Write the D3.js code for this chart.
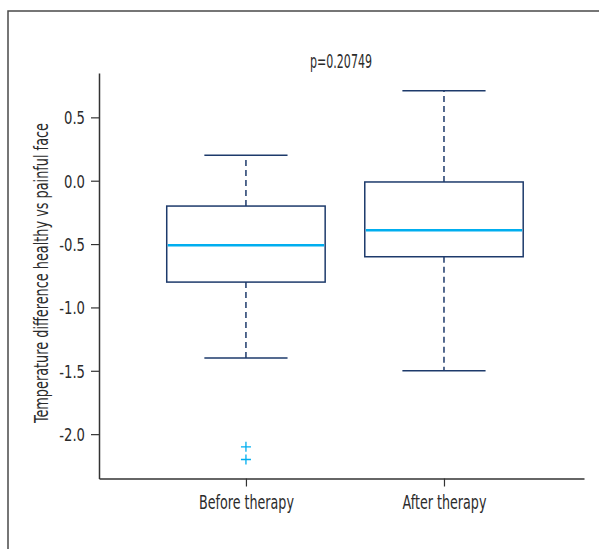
<!DOCTYPE html>
<html><head><meta charset="utf-8">
<script src="https://cdn.jsdelivr.net/npm/d3@7"></script>
<style>
body{margin:0;background:#fff;}
text{font-family:"DejaVu Sans Condensed","DejaVu Sans",sans-serif;fill:#2b2b2b;}
</style></head>
<body><svg id="c" width="599" height="549"></svg>
<script>
const categories = ["Before therapy", "After therapy"];
const positions = [1, 2];
const whiskerLow = [-1.40, -1.50];
const q1 = [-0.80, -0.60];
const median = [-0.51, -0.39];
const q3 = [-0.20, -0.01];
const whiskerHigh = [0.20, 0.71];
const outliers = [[-2.10, -2.20], []];
const yTicks = [0.5, 0.0, -0.5, -1.0, -1.5, -2.0];
const title = "p=0.20749";
const yLabel = "Temperature difference healthy vs painful face";

const svg = d3.select("#c");
const navy = "#1d3a6b", cyan = "#00aeef";
const FONT = '"DejaVu Sans Condensed","DejaVu Sans",sans-serif';

function squeeze(sel, factor){
  sel.each(function(){
    const w = this.getComputedTextLength();
    d3.select(this).attr("textLength", w*factor).attr("lengthAdjust","spacingAndGlyphs");
  });
}

// frame
svg.append("path").attr("d","M8,560 L8,11 L610,11").attr("fill","none").attr("stroke","#4a4a4a").attr("stroke-width",1.5);

const x = d3.scaleLinear().domain([0.258, 2.707]).range([99, 584]);
const y = d3.scaleLinear().domain([-2.35, 0.85]).range([478.5, 73]);

const fmt = v => d3.format(".1f")(v).replace("\u2212","-");

const yAxis = svg.append("g").attr("transform","translate(99,0)")
  .call(d3.axisLeft(y).tickValues(yTicks).tickFormat(fmt).tickSize(8).tickSizeOuter(0));
const xAxis = svg.append("g").attr("transform","translate(0,478.5)")
  .call(d3.axisBottom(x).tickValues(positions).tickFormat((d,i)=>categories[i]).tickSize(8).tickSizeOuter(0));
[yAxis,xAxis].forEach(a=>{
  a.select(".domain").attr("stroke","#333").attr("stroke-width",1.5);
  a.selectAll(".tick line").attr("stroke","#333").attr("stroke-width",1.2);
  a.selectAll(".tick text").style("font-family",FONT).attr("fill","#2b2b2b");
});
yAxis.selectAll(".tick text").attr("font-size",18).attr("x",-14).attr("dy","0.35em");
xAxis.selectAll(".tick text").attr("font-size",19).attr("y",30.5).attr("dy",0);

// condense to match the narrow reference face
const t05 = yAxis.selectAll(".tick text").filter(d=>d===0.5).node();
squeeze(yAxis.selectAll(".tick text"), 21/t05.getComputedTextLength());
const tb = xAxis.selectAll(".tick text").filter(d=>d===1).node();
squeeze(xAxis.selectAll(".tick text"), 95/tb.getComputedTextLength());

const bw = 0.8, cw = 0.42;
const g = svg.append("g");
positions.forEach((p,i)=>{
  g.append("line").attr("x1",x(p)).attr("x2",x(p)).attr("y1",y(q3[i])).attr("y2",y(whiskerHigh[i]))
    .attr("stroke",navy).attr("stroke-width",1.5).attr("stroke-dasharray","6,4");
  g.append("line").attr("x1",x(p)).attr("x2",x(p)).attr("y1",y(q1[i])).attr("y2",y(whiskerLow[i]))
    .attr("stroke",navy).attr("stroke-width",1.5).attr("stroke-dasharray","6,4");
  [whiskerHigh[i], whiskerLow[i]].forEach(v=>{
    g.append("line").attr("x1",x(p-cw/2)).attr("x2",x(p+cw/2)).attr("y1",y(v)).attr("y2",y(v))
      .attr("stroke",navy).attr("stroke-width",1.5);
  });
  g.append("rect").attr("x",x(p-bw/2)).attr("width",x(p+bw/2)-x(p-bw/2))
    .attr("y",y(q3[i])).attr("height",y(q1[i])-y(q3[i]))
    .attr("fill","none").attr("stroke",navy).attr("stroke-width",1.5);
  g.append("line").attr("x1",x(p-bw/2)+1).attr("x2",x(p+bw/2)-1).attr("y1",y(median[i])).attr("y2",y(median[i]))
    .attr("stroke",cyan).attr("stroke-width",2.5);
  outliers[i].forEach(v=>{
    const cx=x(p), cy=y(v);
    g.append("path").attr("d",`M${cx-5},${cy}H${cx+5}M${cx},${cy-5}V${cy+5}`).attr("stroke",cyan).attr("stroke-width",1.3);
  });
});

const tt = svg.append("text").attr("x",341).attr("y",68).attr("text-anchor","middle").attr("font-size",19).text(title);
squeeze(tt, 62/tt.node().getComputedTextLength());
const yl = svg.append("text").attr("transform",`translate(48,273) rotate(-90)`).attr("text-anchor","middle").attr("font-size",19).text(yLabel);
squeeze(yl, 300/yl.node().getComputedTextLength());
</script></body></html>
